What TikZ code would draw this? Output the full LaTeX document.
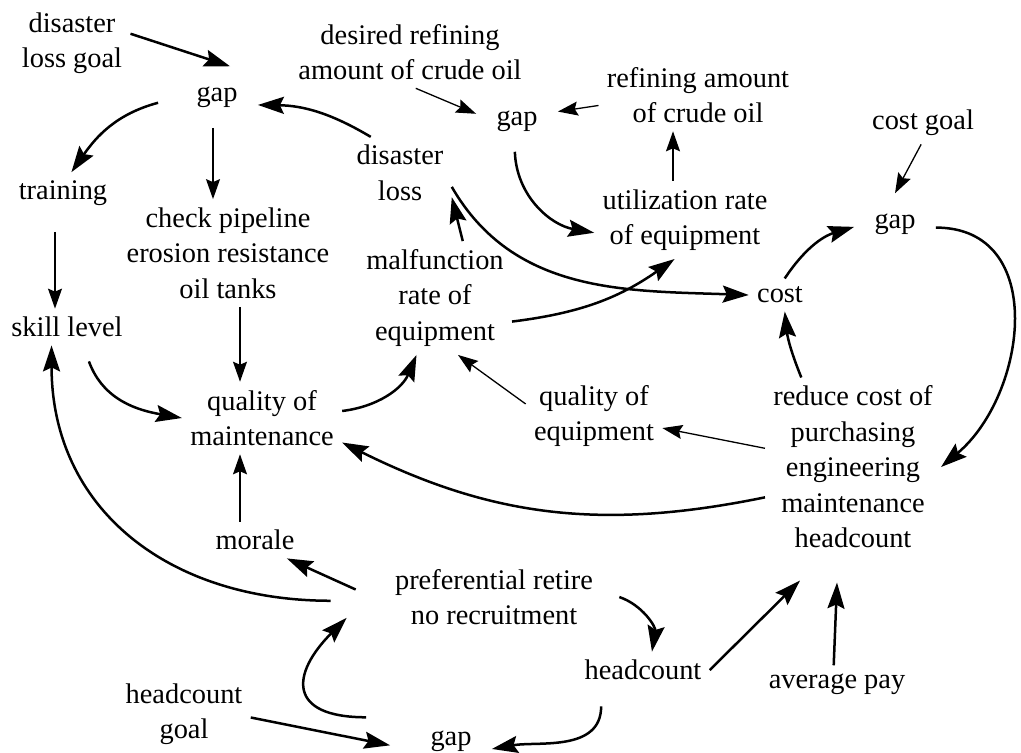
\documentclass[tikz,border=0pt]{standalone}
\usepackage{fontspec}
\setmainfont{Liberation Serif}
\usetikzlibrary{arrows.meta}

\tikzset{
  var/.style={align=center, inner sep=4pt, font=\fontsize{14.2pt}{17.75pt}\selectfont},
  gapvar/.style={var, inner sep=10pt},
  thinarr/.style={-{Stealth[length=10pt,width=7pt,inset=1.5pt]}, line width=0.65pt},
  thickarr/.style={-{Stealth[length=13pt,width=8.5pt,inset=2pt]}, line width=1.25pt},
}

\begin{document}
\begin{tikzpicture}[x=0.5pt, y=-0.5pt]
  \useasboundingbox (0,0) rectangle (1021,752);

  \node[var] (dlgoal) at (72,43) {disaster\\loss goal};
  \node[gapvar] (gapA) at (217,97) {gap};
  \node[var] (desired) at (410,52) {desired refining\\amount of crude oil};
  \node[gapvar] (gapB) at (517,121) {gap};
  \node[var] (refamt) at (698,95) {refining amount\\of crude oil};
  \node[var] (costgoal) at (923,123) {cost goal};
  \node[gapvar] (gapC) at (895,224) {gap};
  \node[var] (training) at (63,193) {training};
  \node[var] (check) at (228,253) {check pipeline\\erosion resistance\\oil tanks};
  \node[var] (dloss) at (400,173) {disaster\\loss};
  \node[var] (util) at (685,220) {utilization rate\\of equipment};
  \node[var] (cost) at (780,295) {cost};
  \node[var] (malf) at (435,298) {malfunction\\rate of\\equipment};
  \node[var] (skill) at (67,327) {skill level};
  \node[var] (qmaint) at (262,418) {quality of\\maintenance};
  \node[var] (qequip) at (594,416) {quality of\\equipment};
  \node[var] (reduce) at (853,467) {reduce cost of\\purchasing\\engineering\\maintenance\\headcount};
  \node[var] (morale) at (255,540) {morale};
  \node[var] (pref) at (494,597) {preferential retire\\no recruitment};
  \node[var] (hcount) at (643,670) {headcount};
  \node[var] (avgpay) at (837,684) {average pay};
  \node[var] (hgoal) at (184,714) {headcount\\goal};
  \node[gapvar] (gapD) at (451,741) {gap};

  \draw[thickarr] (dlgoal.9) -- (gapA.67);
  \draw[thickarr] (dloss.129) to[bend right=15] (gapA.-11);
  \draw[thickarr] ([xshift=-9pt]gapA.188) to[out=195,in=55] (training.68);
  \draw[thinarr] ([xshift=-2pt]gapA.south) -- ([xshift=-2pt]gapA.south |- check.north);
  \draw[thinarr, shorten <=9pt] ([xshift=-4pt]training.south) -- ([xshift=-4pt]training.south |- skill.north);
  \draw[thinarr] ([xshift=6pt]check.south) -- ([xshift=6pt]check.south |- qmaint.north);
  \draw[thickarr] ([yshift=-8pt]skill.-40) to[out=-70,in=170] (qmaint.180);
  \draw[thickarr] (qmaint.5) to[bend right=30] (malf.-108);
  \draw[thickarr] (malf.64) -- (dloss.-25);
  \draw[thickarr] (dloss.-15) to[out=-60,in=178] (cost.180);

  \draw[thinarr] (desired.-81) -- (gapB.170);
  \draw[thinarr] (refamt.186) -- (gapB.13);
  \draw[thickarr] (gapB.-94) to[out=-88,in=170] (util.188);
  \draw[thinarr] ([xshift=-6pt]util.north) -- ([xshift=-6pt]util.north |- refamt.south);
  \draw[thickarr] (malf.-17) to[bend right=14] (util.-105);
  \draw[thickarr] (cost.74) to[bend left=20] (gapC.184);
  \draw[thinarr] (costgoal.-95) -- (gapC.north);
  \draw[thickarr] (gapC.-5) to[out=0,in=40,looseness=1.2] (reduce.0);
  \draw[thickarr] (reduce.120) to[bend left=8] (cost.-74);
  \draw[thinarr] (reduce.168) -- (qequip.-10);
  \draw[thinarr] (qequip.170) -- (malf.-68);
  \draw[thickarr] (reduce.199) to[bend left=19] (qmaint.-17);

  \draw[thinarr] ([xshift=-7.5pt]morale.north) -- ([xshift=-7.5pt]morale.north |- qmaint.south);
  \draw[thickarr] ([xshift=-15.5pt]pref.176) -- (morale.-30);
  \draw[thickarr] ([xshift=-28pt]pref.182) to[out=180,in=-90,looseness=1.1] (skill.-130);
  \draw[thickarr] ([shift={(-22pt,6pt)}]gapD.164) to[out=180,in=225,looseness=2] ([xshift=-20pt]pref.191);
  \draw[thickarr] (hgoal.-3) -- ([xshift=-10pt]gapD.186);
  \draw[thickarr] ([xshift=9pt]pref.0) to[bend left=40] (hcount.64);
  \draw[thickarr] ([shift={(-5pt,-9pt)}]hcount.210) to[out=-90,in=10] (gapD.-11);
  \draw[thickarr] (hcount.0) -- ([shift={(-26.5pt,-12pt)}]reduce.south);
  \draw[thickarr] (avgpay.100) -- ([shift={(-8pt,-13pt)}]reduce.south);
\end{tikzpicture}
\end{document}
